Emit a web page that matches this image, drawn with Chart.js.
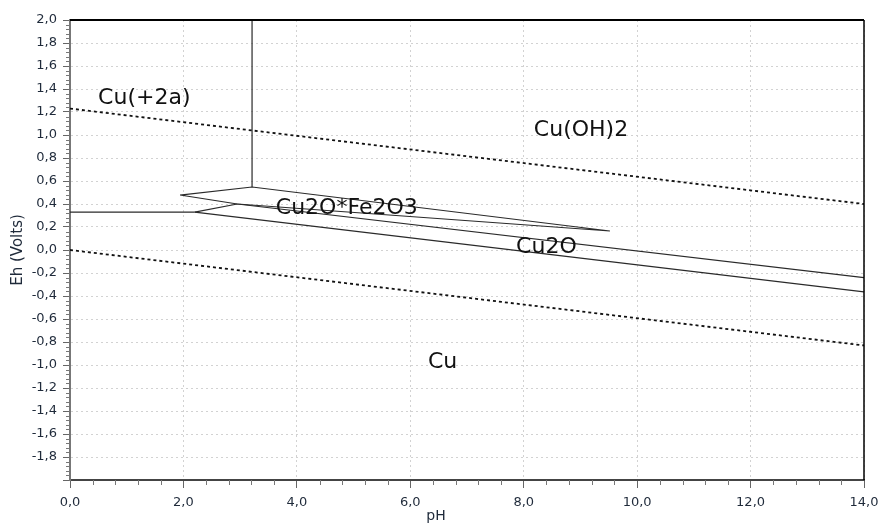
<!DOCTYPE html>
<html>
<head>
<meta charset="utf-8">
<script src="https://cdn.jsdelivr.net/npm/chart.js@4.4.1/dist/chart.umd.min.js"></script>
<style>
    html, body { margin: 0; padding: 0; background: #fff; }
</style>
</head>
<body>
<canvas id="chart" width="880" height="523"></canvas>
<script>
// Eh-pH diagram, Cu-Fe-O-H system (25 C)
const phTicks = [0, 2, 4, 6, 8, 10, 12, 14];

// water stability lines (dotted)
const o2LinePH = [0, 14];
const o2LineEh = [1.23, 0.40];
const h2LinePH = [0, 14];
const h2LineEh = [0.0, -0.83];

// phase boundaries (solid)
const cu2aVerticalPH = [3.21, 3.21];
const cu2aVerticalEh = [2.0, 0.548];
const ferritePH = [1.94, 3.21, 9.52, 2.95, 1.94];
const ferriteEh = [0.478, 0.548, 0.165, 0.40, 0.478];
const cuCu2aPH = [0, 2.2];
const cuCu2aEh = [0.33, 0.33];
const cu2aCu2oPH = [2.2, 2.95];
const cu2aCu2oEh = [0.33, 0.40];
const cu2oCuPH = [2.2, 14];
const cu2oCuEh = [0.33, -0.365];
const cu2oUpperPH = [2.95, 14];
const cu2oUpperEh = [0.40, -0.241];

// region labels
const regionNames = ['Cu(+2a)', 'Cu(OH)2', 'Cu2O*Fe2O3', 'Cu2O', 'Cu'];
const regionPH = [1.31, 9.01, 4.88, 8.40, 6.57];
const regionEh = [1.32, 1.04, 0.365, 0.02, -0.98];

const fontFamily = '"DejaVu Sans", Verdana, sans-serif';
Chart.defaults.font.family = fontFamily;
Chart.defaults.font.size = 13;
Chart.defaults.color = '#1f2a3a';

function points(xs, ys) {
    return xs.map((x, i) => ({ x, y: ys[i] }));
}

function solid(xs, ys) {
    return {
        data: points(xs, ys),
        showLine: true,
        pointRadius: 0,
        borderColor: '#2a2a2a',
        borderWidth: 1.2,
        tension: 0,
        fill: false,
    };
}

function dotted(xs, ys) {
    return {
        data: points(xs, ys),
        showLine: true,
        pointRadius: 0,
        borderColor: '#111',
        borderWidth: 1.8,
        borderDash: [3, 3],
        tension: 0,
        fill: false,
    };
}

function formatComma(value) {
    return Number(value).toFixed(1).replace('.', ',');
}

const decorations = {
    id: 'decorations',
    afterDraw(chart) {
        const { ctx, chartArea, scales } = chart;
        const x = scales.x;
        const y = scales.y;

        ctx.save();

        // minor ticks
        ctx.strokeStyle = '#777';
        ctx.lineWidth = 1;
        ctx.beginPath();
        for (let i = 0; i <= 100; i++) {
            if (i % 5 === 0) continue;
            const py = Math.round(y.getPixelForValue(-2 + i * 0.04)) + 0.5;
            ctx.moveTo(chartArea.left, py);
            ctx.lineTo(chartArea.left - 4, py);
        }
        for (let i = 0; i <= 35; i++) {
            if (i % 5 === 0) continue;
            const px = Math.round(x.getPixelForValue(i * 0.4)) + 0.5;
            ctx.moveTo(px, chartArea.bottom);
            ctx.lineTo(px, chartArea.bottom + 5);
        }
        ctx.stroke();

        // top and right frame
        ctx.strokeStyle = '#000';
        ctx.lineWidth = 2;
        ctx.beginPath();
        ctx.moveTo(chartArea.left, chartArea.top);
        ctx.lineTo(chartArea.right, chartArea.top);
        ctx.stroke();
        ctx.lineWidth = 1.5;
        ctx.beginPath();
        ctx.moveTo(chartArea.right, chartArea.top);
        ctx.lineTo(chartArea.right, chartArea.bottom);
        ctx.stroke();

        // region names
        ctx.fillStyle = '#111';
        ctx.font = '22px ' + fontFamily;
        ctx.textAlign = 'center';
        ctx.textBaseline = 'middle';
        regionNames.forEach((name, i) => {
            ctx.fillText(name, x.getPixelForValue(regionPH[i]), y.getPixelForValue(regionEh[i]));
        });

        // axis titles
        ctx.fillStyle = '#1f2a3a';
        ctx.font = '14px ' + fontFamily;
        ctx.fillText('pH', 436, 516);
        ctx.translate(18, 250);
        ctx.rotate(-Math.PI / 2);
        ctx.font = '15px ' + fontFamily;
        ctx.fillText('Eh (Volts)', 0, 0);

        ctx.restore();
    },
};

new Chart(document.getElementById('chart'), {
    type: 'scatter',
    data: {
        datasets: [
            dotted(o2LinePH, o2LineEh),
            dotted(h2LinePH, h2LineEh),
            solid(cu2aVerticalPH, cu2aVerticalEh),
            solid(ferritePH, ferriteEh),
            solid(cuCu2aPH, cuCu2aEh),
            solid(cu2aCu2oPH, cu2aCu2oEh),
            solid(cu2oCuPH, cu2oCuEh),
            solid(cu2oUpperPH, cu2oUpperEh),
        ],
    },
    options: {
        responsive: false,
        animation: false,
        events: [],
        layout: { padding: { top: 20, right: 16, left: 0, bottom: 0 } },
        plugins: {
            legend: { display: false },
            tooltip: { enabled: false },
        },
        scales: {
            x: {
                type: 'linear',
                min: 0,
                max: 14,
                afterBuildTicks: (scale) => {
                    scale.ticks = phTicks.map((value) => ({ value }));
                },
                afterFit: (scale) => {
                    scale.height = 43;
                    scale.paddingLeft = 0;
                    scale.paddingRight = 0;
                },
                ticks: {
                    padding: 7,
                    callback: formatComma,
                },
                grid: {
                    color: '#d2d2d2',
                    tickColor: '#666',
                    tickLength: 8,
                    tickBorderDash: [],
                },
                border: { color: '#444', width: 2, dash: [2, 3] },
            },
            y: {
                type: 'linear',
                min: -2,
                max: 2,
                ticks: {
                    stepSize: 0.2,
                    padding: 6,
                    callback: (value) => (Math.abs(value + 2) < 1e-6 ? '' : formatComma(value)),
                },
                afterFit: (scale) => {
                    scale.width = 70;
                    scale.paddingTop = 0;
                    scale.paddingBottom = 0;
                },
                grid: {
                    color: '#d2d2d2',
                    tickColor: '#666',
                    tickLength: 7,
                    tickBorderDash: [],
                },
                border: { color: '#777', width: 2, dash: [2, 3] },
            },
        },
    },
    plugins: [decorations],
});
</script>
</body>
</html>
